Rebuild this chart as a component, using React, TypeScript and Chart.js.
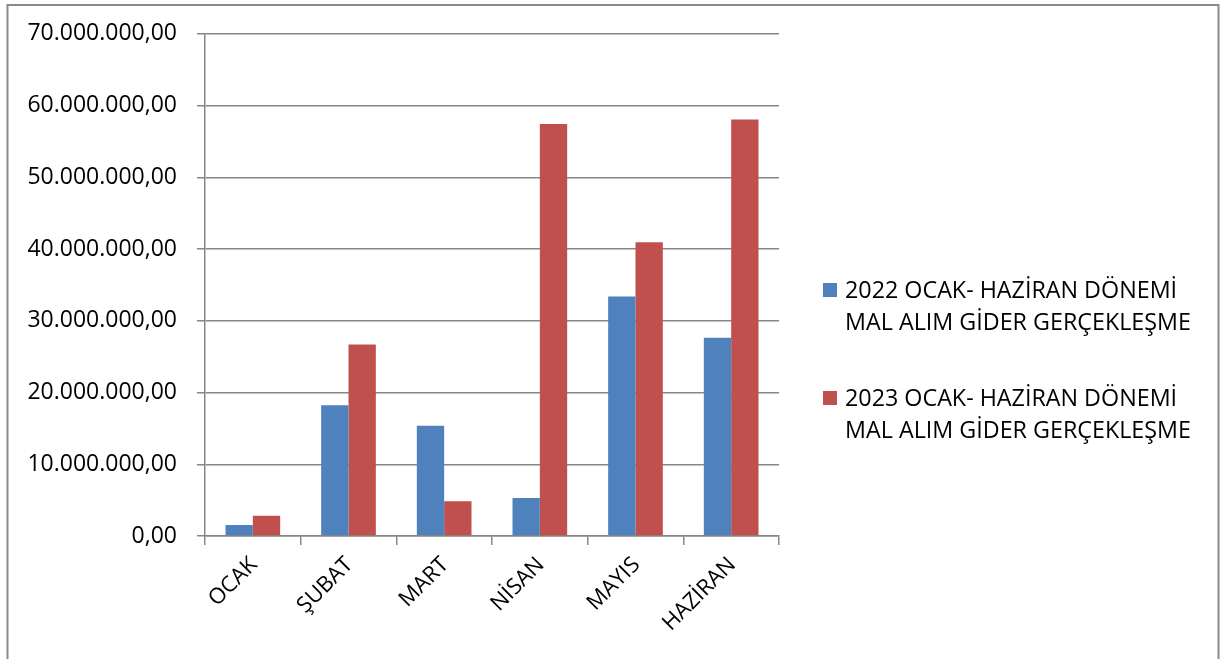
import React, { useEffect, useRef } from 'react';
import { Chart, registerables } from 'chart.js';

Chart.register(...registerables);

const categories = ['OCAK', 'ŞUBAT', 'MART', 'NİSAN', 'MAYIS', 'HAZİRAN'];
const values2022 = [1530000, 18230000, 15350000, 5290000, 33400000, 27630000];
const values2023 = [2820000, 26680000, 4830000, 57430000, 40960000, 58070000];
const label2022 = ['2022 OCAK- HAZİRAN DÖNEMİ', 'MAL ALIM GİDER GERÇEKLEŞME'];
const label2023 = ['2023 OCAK- HAZİRAN DÖNEMİ', 'MAL ALIM GİDER GERÇEKLEŞME'];
const yMin = 0;
const yMax = 70000000;
const yStep = 10000000;

const BLUE = '#4F81BD';
const RED = '#C0504D';
const GRID = '#878787';
const FONT = "'Open Sans', 'DejaVu Sans', sans-serif";

function formatTR(v: number): string {
  const s = Math.round(v).toString().replace(/\B(?=(\d{3})+(?!\d))/g, '.');
  return s + ',00';
}

const framePlugin = {
  id: 'frame',
  beforeDraw(chart: any) {
    const ctx = chart.ctx;
    ctx.save();
    ctx.fillStyle = '#ffffff';
    ctx.fillRect(0, 0, chart.width, chart.height);
    ctx.strokeStyle = '#8a8a8a';
    ctx.lineWidth = 2;
    ctx.strokeRect(7.5, 5, chart.width - 11, chart.height + 40);
    ctx.restore();
  },
};

const legendPlugin = {
  id: 'customLegend',
  afterDraw(chart: any) {
    const ctx = chart.ctx;
    const area = chart.chartArea;
    const markerX = area.right + 44;
    const textX = area.right + 66;
    const lineH = 32;
    const itemGap = 108;
    const startY = 290;
    ctx.save();
    ctx.font = `23.3px ${FONT}`;
    ctx.textBaseline = 'middle';
    ctx.textAlign = 'left';
    chart.data.datasets.forEach((ds: any, i: number) => {
      const y0 = startY + i * itemGap;
      ctx.fillStyle = ds.backgroundColor;
      ctx.fillRect(markerX, y0 - 7, 14, 14);
      ctx.fillStyle = '#000';
      const lines: string[] = ds.legendLines;
      lines.forEach((t, j) => ctx.fillText(t, textX, y0 + j * lineH + 1));
    });
    ctx.restore();
  },
};

export default function App() {
  const ref = useRef<HTMLCanvasElement | null>(null);
  useEffect(() => {
    if (!ref.current) return;
    const chart = new Chart(ref.current, {
      type: 'bar',
      data: {
        labels: categories,
        datasets: [
          {
            label: label2022.join(' '),
            legendLines: label2022,
            data: values2022,
            backgroundColor: BLUE,
            borderWidth: 0,
            barPercentage: 1,
            categoryPercentage: 2 / 3.5,
          } as any,
          {
            label: label2023.join(' '),
            legendLines: label2023,
            data: values2023,
            backgroundColor: RED,
            borderWidth: 0,
            barPercentage: 1,
            categoryPercentage: 2 / 3.5,
          } as any,
        ],
      },
      options: {
        responsive: false,
        animation: false,
        layout: { padding: { top: 33, right: 443, bottom: 0, left: 0 } },
        plugins: {
          legend: { display: false },
          tooltip: { enabled: false },
        },
        scales: {
          x: {
            grid: {
              display: true,
              drawOnChartArea: false,
              drawTicks: true,
              tickLength: 9,
              color: GRID,
              lineWidth: 1.5,
              offset: true,
            },
            border: { display: true, color: GRID, width: 1.5 },
            ticks: {
              color: '#000',
              font: { family: FONT, size: 22 },
              maxRotation: 45,
              minRotation: 45,
              autoSkip: false,
              padding: 7,
              labelOffset: 1,
            },
            afterFit: (s: any) => {
              s.height = 123;
            },
          },
          y: {
            min: yMin,
            max: yMax,
            grid: {
              color: GRID,
              lineWidth: 1.5,
              tickLength: 8,
            },
            border: { display: true, color: GRID, width: 1.5 },
            ticks: {
              stepSize: yStep,
              color: '#000',
              font: { family: FONT, size: 23 },
              padding: 20,
              callback: (v: any) => formatTR(Number(v)),
            },
            afterFit: (s: any) => {
              s.width = 205;
            },
          },
        },
      },
      plugins: [framePlugin, legendPlugin],
    });
    return () => chart.destroy();
  }, []);
  return (
    <div style={{ position: 'fixed', left: 0, top: 0, width: 1222, height: 659 }}>
      <canvas ref={ref} width={1222} height={659} style={{ display: 'block' }} />
    </div>
  );
}
